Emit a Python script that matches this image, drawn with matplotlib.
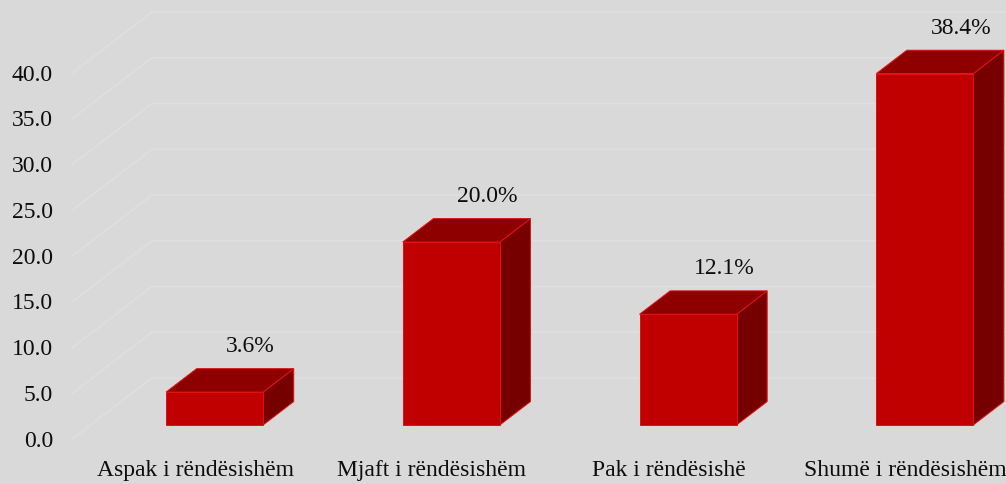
import matplotlib.pyplot as plt
from matplotlib.patches import Polygon

categories = ['Aspak i rëndësishëm', 'Mjaft i rëndësishëm', 'Pak i rëndësishë', 'Shumë i rëndësishëm']
values = [3.6, 20.0, 12.1, 38.4]
yticks = [0, 5, 10, 15, 20, 25, 30, 35, 40]

plt.rcParams['font.family'] = ['Liberation Serif', 'DejaVu Serif']

bg = '#d9d9d9'
front_c = '#c00000'
top_c = '#8e0000'
side_c = '#760000'
edge_c = '#e01010'

fig = plt.figure(figsize=(10.06, 4.85), dpi=100, facecolor=bg)
ax = fig.add_axes([0, 0, 1, 1])
ax.set_facecolor(bg)
ax.axis('off')
ax.set_xlim(-0.8238, 3.426)
ax.set_ylim(-4.809, 48.2)

# oblique depth vector (floor depth) in data units
Dx, Dy = 0.342, 6.776
grid_x0 = -0.524

# 3D-style gridlines: diagonal on the side wall, horizontal on the back wall
for t in yticks:
    ax.plot([grid_x0, grid_x0 + Dx, 3.6], [t, t + Dy, t + Dy],
            color='#dfdfdf', lw=1.2, zorder=1, solid_capstyle='butt')
    ax.text(-0.6, t, f'{t:.1f}', ha='right', va='center', fontsize=17, color='#0d0d0d')

f0, f1 = 0.242, 0.62
w = 0.205
for i, (cat, v) in enumerate(zip(categories, values)):
    x0 = i - w + f0 * Dx
    x1 = i + w + f0 * Dx
    y0 = f0 * Dy
    ddx = (f1 - f0) * Dx
    ddy = (f1 - f0) * Dy
    front = [(x0, y0), (x1, y0), (x1, y0 + v), (x0, y0 + v)]
    top = [(x0, y0 + v), (x1, y0 + v), (x1 + ddx, y0 + v + ddy), (x0 + ddx, y0 + v + ddy)]
    side = [(x1, y0), (x1 + ddx, y0 + ddy), (x1 + ddx, y0 + v + ddy), (x1, y0 + v)]
    for pts, c in ((side, side_c), (top, top_c), (front, front_c)):
        ax.add_patch(Polygon(pts, closed=True, facecolor=c, edgecolor=edge_c,
                             lw=0.7, joinstyle='miter', zorder=3 + i))
    ax.text(i + 0.235, v + 6.7, f'{v:.1f}%', ha='center', va='center',
            fontsize=17, color='#0d0d0d', zorder=10)
    ax.text(i, -3.2, cat, ha='center', va='center', fontsize=17, color='#0d0d0d')

fig.savefig('out.png', dpi=100, facecolor=bg)
